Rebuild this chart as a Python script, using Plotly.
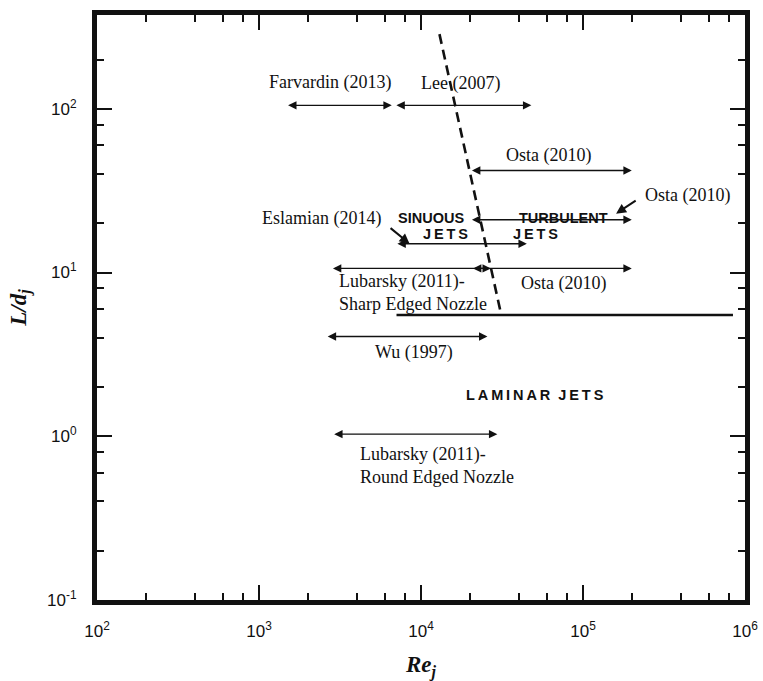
import numpy as np
import plotly.graph_objects as go

# Ranges of jet Reynolds number studied, with the nozzle L/d of each study
study = ["Farvardin (2013)", "Lee (2007)", "Osta (2010)", "Osta (2010)",
         "Eslamian (2014)", "Lubarsky (2011)", "Osta (2010)", "Wu (1997)",
         "Lubarsky (2011)"]
re_min = [1480, 6900, 20200, 20200, 7000, 2800, 20500, 2600, 2850]
re_max = [6600, 48000, 200000, 200000, 45000, 27000, 200000, 25700, 29600]
ld_val = [105, 105, 42, 21, 15, 10.6, 10.6, 4.07, 1.03]

# Regime boundaries
sinuous_re = [13000, 31300]
sinuous_ld = [286, 5.5]
laminar_re = [7060, 843000]
laminar_ld = [5.5, 5.5]

# Axis ticks
x_major = [1e2, 1e3, 1e4, 1e5, 1e6]
x_text = ["10<sup>2</sup>", "10<sup>3</sup>", "10<sup>4</sup>", "10<sup>5</sup>", "10<sup>6</sup>"]
y_major = [1e-1, 1e0, 1e1, 1e2]
y_text = ["10<sup>-1</sup>", "10<sup>0</sup>", "10<sup>1</sup>", "10<sup>2</sup>"]
minor_mult = [2, 4, 6, 8]
x_minor = [m * 10.0 ** e for e in range(2, 6) for m in minor_mult]
y_minor = [m * 10.0 ** e for e in range(-1, 3) for m in minor_mult if m * 10.0 ** e < 375]

serif = "Liberation Serif"
sans = "Liberation Sans"
ink = "#111111"
TS = "\u2009"  # thin space used to letter-space the regime names


def spaced(word):
    return TS.join(word)


fig = go.Figure()

fig.add_trace(go.Scatter(x=sinuous_re, y=sinuous_ld, mode="lines",
                         line=dict(color=ink, width=2.6, dash="10px,6px"),
                         hoverinfo="skip", showlegend=False))
fig.add_trace(go.Scatter(x=laminar_re, y=laminar_ld, mode="lines",
                         line=dict(color=ink, width=2.6),
                         hoverinfo="skip", showlegend=False))

annotations = []
lg = np.log10

# Double-headed range arrows
for lo, hi, ld in zip(re_min, re_max, ld_val):
    annotations.append(dict(
        x=lg(hi), y=lg(ld), ax=lg(lo), ay=lg(ld), xref="x", yref="y",
        axref="x", ayref="y", text="", showarrow=True, arrowhead=2,
        arrowside="end+start", arrowsize=1.2, arrowwidth=1.4,
        arrowcolor=ink, standoff=0, startstandoff=0))

# Pointer arrows from labels to their ranges
pointers = [((6350, 19.0), (8500, 15.0)), ((216000, 27.9), (160000, 22.9))]
for (x0, y0), (x1, y1) in pointers:
    annotations.append(dict(
        x=lg(x1), y=lg(y1), ax=lg(x0), ay=lg(y0), xref="x", yref="y",
        axref="x", ayref="y", text="", showarrow=True, arrowhead=2,
        arrowsize=1.0, arrowwidth=2.0, arrowcolor=ink, standoff=0))

# Study labels
labels = [
    ("Farvardin (2013)", 2730, 144),
    ("Lee (2007)", 17500, 142),
    ("Osta (2010)", 61000, 51.6),
    ("Osta (2010)", 440000, 29.5),
    ("Eslamian (2014)", 2440, 21.3),
    ("Osta (2010)", 75500, 8.57),
    ("Wu (1997)", 9100, 3.25),
]
for txt, xv, yv in labels:
    annotations.append(dict(x=lg(xv), y=lg(yv), xref="x", yref="y", text=txt,
                            showarrow=False, xanchor="center",
                            font=dict(family=serif, size=18, color=ink)))

left_labels = [
    ("Lubarsky (2011)-<br>Sharp Edged Nozzle", 3010, 7.55),
    ("Lubarsky (2011)-<br>Round Edged Nozzle", 4060, 0.665),
]
for txt, xv, yv in left_labels:
    annotations.append(dict(x=lg(xv), y=lg(yv), xref="x", yref="y", text=txt,
                            showarrow=False, xanchor="left", align="left",
                            font=dict(family=serif, size=18, color=ink)))

# Regime names
regimes = [
    ("SINUOUS", 11600, 21.6), (spaced("JETS"), 14200, 17.3),
    ("TURBULENT", 75500, 21.6), (spaced("JETS"), 50800, 17.3),
    (spaced("LAMINAR") + "  " + spaced("JETS"), 50800, 1.78),
]
for txt, xv, yv in regimes:
    annotations.append(dict(x=lg(xv), y=lg(yv), xref="x", yref="y", text="<b>" + txt + "</b>",
                            showarrow=False,
                            font=dict(family=sans, size=14.5, color=ink)))

axis_common = dict(
    type="log", showgrid=False, zeroline=False, showline=True,
    linecolor=ink, linewidth=5, mirror="ticks", ticks="inside",
    ticklen=15, tickwidth=1.5, tickcolor=ink, automargin=False,
    tickfont=dict(family=sans, size=17, color=ink),
)

fig.update_xaxes(
    **axis_common, range=[2, 6], tickmode="array", tickvals=x_major, ticktext=x_text,
    ticklabelstandoff=12,
    minor=dict(tickmode="array", tickvals=x_minor, ticks="inside", ticklen=7,
               tickwidth=1.5, tickcolor=ink),
    title=dict(text="<b><i>Re<sub>j</sub></i></b>",
               font=dict(family=serif, size=23, color=ink), standoff=20),
)
fig.update_yaxes(
    **axis_common, range=[-1, 2.573], tickmode="array", tickvals=y_major, ticktext=y_text,
    ticklabelstandoff=12,
    minor=dict(tickmode="array", tickvals=y_minor, ticks="inside", ticklen=7,
               tickwidth=1.5, tickcolor=ink),
    title=dict(text="<b><i>L/d<sub>j</sub></i></b>",
               font=dict(family=serif, size=23, color=ink), standoff=16),
)

fig.update_layout(
    width=763, height=681,
    margin=dict(l=97, r=18, t=15, b=81),
    paper_bgcolor="white", plot_bgcolor="white",
    annotations=annotations, showlegend=False,
)

fig.write_html("out.html")
